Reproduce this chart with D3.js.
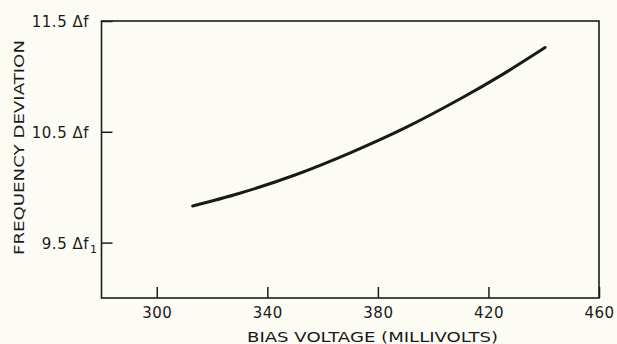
<!DOCTYPE html>
<html>
<head>
<meta charset="utf-8">
<script src="https://cdn.jsdelivr.net/npm/d3@7"></script>
<style>
  html, body { margin: 0; padding: 0; background: #fcfcf5; }
  svg { display: block; }
  text { font-family: "DejaVu Sans", sans-serif; fill: #1a1a1a; }
</style>
</head>
<body>
<svg id="chart" width="617" height="344"></svg>
<script>
// Bias voltage (mV) against frequency deviation (multiples of Δf)
const biasVoltage = [313, 330, 350, 370, 390, 410, 425, 440.5];
const deviation   = [9.83, 9.945, 10.11, 10.31, 10.537, 10.80, 11.016, 11.26];

const xTicks = [300, 340, 380, 420, 460];
const yTicks = [9.5, 10.5, 11.5];
const yTickText = ["9.5 Δf", "10.5 Δf", "11.5 Δf"];
const yTickSub  = ["1", "", ""];

const xTitle = "BIAS VOLTAGE (MILLIVOLTS)";
const yTitle = "FREQUENCY DEVIATION";

const svg = d3.select("#chart");
const ink = "#1c1c1c";

const x = d3.scaleLinear().domain([280, 460]).range([101.5, 599]);
const y = d3.scaleLinear().domain([9.0, 11.5]).range([298, 21]);

// frame
svg.append("rect")
  .attr("x", x(280)).attr("y", y(11.5))
  .attr("width", x(460) - x(280)).attr("height", y(9.0) - y(11.5))
  .attr("fill", "none").attr("stroke", ink).attr("stroke-width", 1.6);

// bottom axis: inward ticks
const xAxis = svg.append("g")
  .attr("transform", `translate(0,${y(9.0)})`)
  .call(d3.axisBottom(x).tickValues(xTicks).tickSize(-11).tickPadding(9).tickFormat(d3.format("d")));
xAxis.select(".domain").remove();
xAxis.selectAll(".tick line").attr("stroke", ink).attr("stroke-width", 1.5);
xAxis.selectAll(".tick text")
  .attr("font-size", 15).attr("fill", ink)
  .attr("font-family", "DejaVu Sans, sans-serif")
  .attr("letter-spacing", 0.5);

// left axis: inward ticks, labels drawn separately for the subscript
const yAxis = svg.append("g")
  .attr("transform", `translate(${x(280)},0)`)
  .call(d3.axisLeft(y).tickValues(yTicks).tickSize(-11).tickFormat(""));
yAxis.select(".domain").remove();
yAxis.selectAll(".tick line").attr("stroke", ink).attr("stroke-width", 1.5);

const yLab = svg.append("g");
yTicks.forEach((v, i) => {
  yLab.append("text")
    .attr("x", 89).attr("y", y(v) + 6)
    .attr("text-anchor", "end")
    .attr("font-size", 15)
    .attr("letter-spacing", 0.5)
    .text(yTickText[i]);
  if (yTickSub[i]) {
    yLab.append("text")
      .attr("x", 90).attr("y", y(v) + 10)
      .attr("font-size", 11)
      .text(yTickSub[i]);
  }
});

// axis titles
svg.append("text")
  .attr("x", 247).attr("y", 342)
  .attr("font-size", 14.5)
  .attr("textLength", 251).attr("lengthAdjust", "spacingAndGlyphs")
  .text(xTitle);

svg.append("text")
  .attr("transform", "translate(24,255) rotate(-90)")
  .attr("font-size", 14.5)
  .attr("textLength", 215).attr("lengthAdjust", "spacingAndGlyphs")
  .text(yTitle);

// response curve
const line = d3.line()
  .x((d, i) => x(biasVoltage[i]))
  .y(d => y(d))
  .curve(d3.curveCatmullRom.alpha(0.5));

svg.append("path")
  .datum(deviation)
  .attr("d", line)
  .attr("fill", "none")
  .attr("stroke", "#1a1a1a")
  .attr("stroke-width", 3)
  .attr("stroke-linecap", "round");
</script>
</body>
</html>
